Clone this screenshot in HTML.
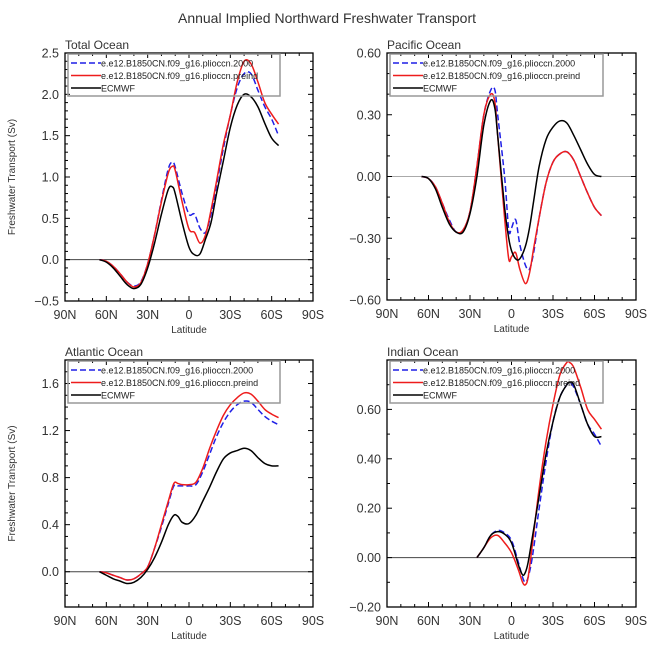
<!DOCTYPE html>
<html><head><meta charset="utf-8"><style>
body{margin:0;background:#fff}
svg{display:block;font-family:"Liberation Sans",sans-serif}
</style></head><body>
<svg id="chart" width="654" height="656" viewBox="0 0 654 656">
<text x="327" y="23" text-anchor="middle" font-size="14" fill="#333">Annual Implied Northward Freshwater Transport</text>
</svg>
<script>
// ---- data ----
const totalLats=[65,60,55,50,45,40,35,30,25,20,15,12,10,5,0,-4,-8,-12,-16,-20,-25,-30,-35,-40,-45,-50,-55,-60,-65];
const totalBlue=[0,-0.02,-0.08,-0.17,-0.27,-0.32,-0.27,-0.05,0.3,0.72,1.1,1.18,1.12,0.8,0.55,0.55,0.38,0.33,0.55,0.9,1.35,1.75,2.08,2.25,2.25,2.05,1.85,1.7,1.5];
const totalRed=[0,-0.02,-0.08,-0.17,-0.27,-0.33,-0.28,-0.05,0.3,0.7,1.05,1.13,1.08,0.7,0.37,0.33,0.2,0.3,0.6,0.95,1.4,1.75,2.15,2.4,2.37,2.15,1.9,1.76,1.64];
const totalBlack=[0,-0.03,-0.1,-0.2,-0.3,-0.35,-0.3,-0.1,0.2,0.55,0.85,0.88,0.8,0.45,0.15,0.06,0.07,0.25,0.45,0.8,1.2,1.6,1.87,2.0,1.97,1.85,1.65,1.47,1.38];
const pacLats=[65,60,55,50,45,40,35,30,25,20,15,12,10,5,2,0,-3,-6,-10,-13,-16,-20,-25,-30,-35,-40,-45,-50,-55,-60,-65];
const pacBlue=[0,-0.01,-0.05,-0.13,-0.21,-0.27,-0.26,-0.17,0.05,0.3,0.42,0.42,0.3,0.0,-0.26,-0.25,-0.21,-0.33,-0.43,-0.45,-0.37,-0.2,-0.03,0.07,0.11,0.12,0.08,0.0,-0.08,-0.15,-0.19];
const pacRed=[0,-0.01,-0.05,-0.13,-0.22,-0.27,-0.26,-0.17,0.05,0.3,0.4,0.36,0.2,-0.2,-0.4,-0.39,-0.37,-0.45,-0.52,-0.47,-0.35,-0.2,-0.03,0.07,0.11,0.12,0.08,0.0,-0.08,-0.15,-0.19];
const pacBlack=[0,-0.01,-0.06,-0.15,-0.23,-0.27,-0.27,-0.18,0.0,0.25,0.37,0.33,0.2,-0.15,-0.3,-0.36,-0.4,-0.4,-0.34,-0.25,-0.12,0.05,0.18,0.24,0.27,0.26,0.2,0.13,0.06,0.01,0.0];
const atlLats=[65,60,55,50,45,40,35,30,25,20,15,11,8,5,0,-5,-10,-15,-20,-25,-30,-35,-40,-45,-50,-55,-60,-65];
const atlBlue=[0,-0.01,-0.03,-0.05,-0.07,-0.06,-0.02,0.04,0.2,0.38,0.58,0.73,0.73,0.73,0.73,0.74,0.85,1.0,1.15,1.27,1.36,1.42,1.45,1.44,1.38,1.32,1.28,1.25];
const atlRed=[0,-0.01,-0.03,-0.05,-0.07,-0.06,-0.02,0.04,0.2,0.4,0.6,0.75,0.75,0.74,0.74,0.76,0.88,1.05,1.2,1.33,1.42,1.48,1.52,1.51,1.45,1.38,1.34,1.31];
const atlBlack=[0,-0.03,-0.06,-0.08,-0.1,-0.09,-0.05,0.02,0.12,0.25,0.4,0.48,0.47,0.42,0.41,0.48,0.6,0.72,0.85,0.96,1.01,1.03,1.05,1.03,0.97,0.92,0.9,0.9];
const indLats=[25,20,15,10,5,0,-5,-8,-10,-12,-15,-20,-25,-30,-35,-40,-42,-45,-50,-55,-60,-65];
const indBlue=[0,0.04,0.09,0.11,0.1,0.07,-0.02,-0.08,-0.1,-0.08,0.0,0.2,0.39,0.55,0.65,0.7,0.71,0.69,0.62,0.54,0.5,0.45];
const indRed=[0,0.04,0.08,0.09,0.06,0.02,-0.05,-0.1,-0.11,-0.08,0.05,0.28,0.47,0.62,0.74,0.79,0.79,0.77,0.69,0.6,0.56,0.52];
const indBlack=[0,0.04,0.09,0.105,0.095,0.06,-0.03,-0.07,-0.06,-0.02,0.08,0.25,0.42,0.55,0.65,0.7,0.71,0.7,0.62,0.54,0.49,0.49];
const xTickLabels=["90N","60N","30N","0","30S","60S","90S"];
const xTickValues=[90,60,30,0,-30,-60,-90];
const legendLabels=["e.e12.B1850CN.f09_g16.plioccn.2000","e.e12.B1850CN.f09_g16.plioccn.preind","ECMWF"];

const NS="http://www.w3.org/2000/svg";
const svg=document.getElementById('chart');
function mk(tag,attrs,parent){const e=document.createElementNS(NS,tag);for(const k in attrs)e.setAttribute(k,attrs[k]);(parent||svg).appendChild(e);return e;}
function smooth(pts){let d="M"+pts[0][0].toFixed(2)+","+pts[0][1].toFixed(2);
  for(let i=0;i<pts.length-1;i++){const p0=pts[Math.max(0,i-1)],p1=pts[i],p2=pts[i+1],p3=pts[Math.min(pts.length-1,i+2)];
    const c1=[p1[0]+(p2[0]-p0[0])/6,p1[1]+(p2[1]-p0[1])/6],c2=[p2[0]-(p3[0]-p1[0])/6,p2[1]-(p3[1]-p1[1])/6];
    d+=" C"+c1[0].toFixed(2)+","+c1[1].toFixed(2)+" "+c2[0].toFixed(2)+","+c2[1].toFixed(2)+" "+p2[0].toFixed(2)+","+p2[1].toFixed(2);}
  return d;}

function panel(cfg){
  const {name,title,x0,x1,y0,y1,ymin,ymax,major,minor,dec,lats,series,ylabel,zeroColor,skipTop}=cfg;
  const g=mk('g',{});
  
  
  const X=v=>x0+(90-v)/180*(x1-x0);
  const Y=v=>y1-(v-ymin)/(ymax-ymin)*(y1-y0);
  const t=mk('text',{x:x0,y:y0-4,'font-size':12,fill:'#333'},g);t.textContent=title;
  
  
  const zl=mk('line',{x1:x0,x2:x1,y1:Y(0),y2:Y(0),stroke:zeroColor,'stroke-width':1},g);
  
  
  for(let v=-90;v<=90;v+=10){const maj=v%30===0,L=maj?5:3;
    mk('line',{x1:X(v),x2:X(v),y1:y1,y2:y1-L,stroke:'#000'},g);
    mk('line',{x1:X(v),x2:X(v),y1:y0,y2:y0+L,stroke:'#000'},g);}
  xTickValues.forEach((v,i)=>{const tx=mk('text',{x:X(v),y:y1+18,'text-anchor':'middle','font-size':12.5,fill:'#333'},g);tx.textContent=xTickLabels[i];
    
    });
  const xl=mk('text',{x:(x0+x1)/2,y:y1+32,'text-anchor':'middle','font-size':10,fill:'#333'},g);xl.textContent="Latitude";
  
  
  const n=Math.round((ymax-ymin)/minor);
  for(let i=0;i<=n;i++){const v=ymin+i*minor;const r=v/major;const maj=Math.abs(r-Math.round(r))<1e-6;const L=maj?5:3;
    mk('line',{x1:x0,x2:x0+L,y1:Y(v),y2:Y(v),stroke:'#000'},g);
    mk('line',{x1:x1,x2:x1-L,y1:Y(v),y2:Y(v),stroke:'#000'},g);
    if(maj && !(skipTop && i===n)){const ty=mk('text',{x:x0-6,y:Y(v)+4.5,'text-anchor':'end','font-size':12.5,fill:'#333'},g);
      ty.textContent=(Math.abs(v)<1e-9?0:v).toFixed(dec).replace('-','\u2212');
      
      }}
  if(ylabel){const yl=mk('text',{x:0,y:0,'text-anchor':'middle','font-size':10,fill:'#333',transform:`translate(15,${(y0+y1)/2}) rotate(-90)`},g);yl.textContent="Freshwater Transport (Sv)";
    
    }
  series.forEach(s=>{const pts=s.vals.map((v,i)=>[X(lats[i]),Y(v)]);
    const p=mk('path',{d:smooth(pts),fill:'none',stroke:s.color,'stroke-width':1.5},g);
    if(s.dash)p.setAttribute('stroke-dasharray','6,3');
    
    });
  const fr=mk('rect',{x:x0,y:y0,width:x1-x0,height:y1-y0,fill:'none',stroke:'#000','stroke-width':1.3},g);
  
  
  const lg=mk('g',{},g);
  
  
  const lx=x0+3,ly=y0+1,lw=cfg.lw;
  mk('rect',{x:lx,y:ly,width:lw,height:42,fill:'none',stroke:'#999','stroke-width':1.5},lg);
  series.forEach((s,i)=>{const yy=ly+9+i*12.5;
    const e=mk('g',{},lg);
    
    
    const l=mk('line',{x1:lx+3,x2:lx+33,y1:yy,y2:yy,stroke:s.color,'stroke-width':1.5},e);
    if(s.dash)l.setAttribute('stroke-dasharray','6,3');
    const tt=mk('text',{x:lx+33,y:yy+3.5,'font-size':9,fill:'#222'},e);tt.textContent=legendLabels[i];});
}
function S(b,r,k){return [{key:'plioccn-2000',vals:b,color:'#1f1fe6',dash:true},{key:'plioccn-preind',vals:r,color:'#ee1c1c'},{key:'ecmwf',vals:k,color:'#000'}];}
panel({name:'total-ocean',title:'Total Ocean',x0:65,x1:313,y0:53,y1:301,ymin:-0.5,ymax:2.5,major:0.5,minor:0.1,dec:1,lats:totalLats,series:S(totalBlue,totalRed,totalBlack),ylabel:true,zeroColor:'#444',lw:212});
panel({name:'pacific-ocean',title:'Pacific Ocean',x0:387,x1:636,y0:53,y1:300,ymin:-0.6,ymax:0.6,major:0.3,minor:0.1,dec:2,lats:pacLats,series:S(pacBlue,pacRed,pacBlack),ylabel:false,zeroColor:'#aaa',lw:213});
panel({name:'atlantic-ocean',title:'Atlantic Ocean',x0:65,x1:313,y0:360,y1:607,ymin:-0.3,ymax:1.8,major:0.4,minor:0.1,dec:1,lats:atlLats,series:S(atlBlue,atlRed,atlBlack),ylabel:true,zeroColor:'#444',lw:212});
panel({name:'indian-ocean',title:'Indian Ocean',x0:387,x1:636,y0:360,y1:607,ymin:-0.2,ymax:0.8,major:0.2,minor:0.1,dec:2,lats:indLats,series:S(indBlue,indRed,indBlack),ylabel:false,zeroColor:'#444',lw:213,skipTop:true});
</script>
</body></html>
